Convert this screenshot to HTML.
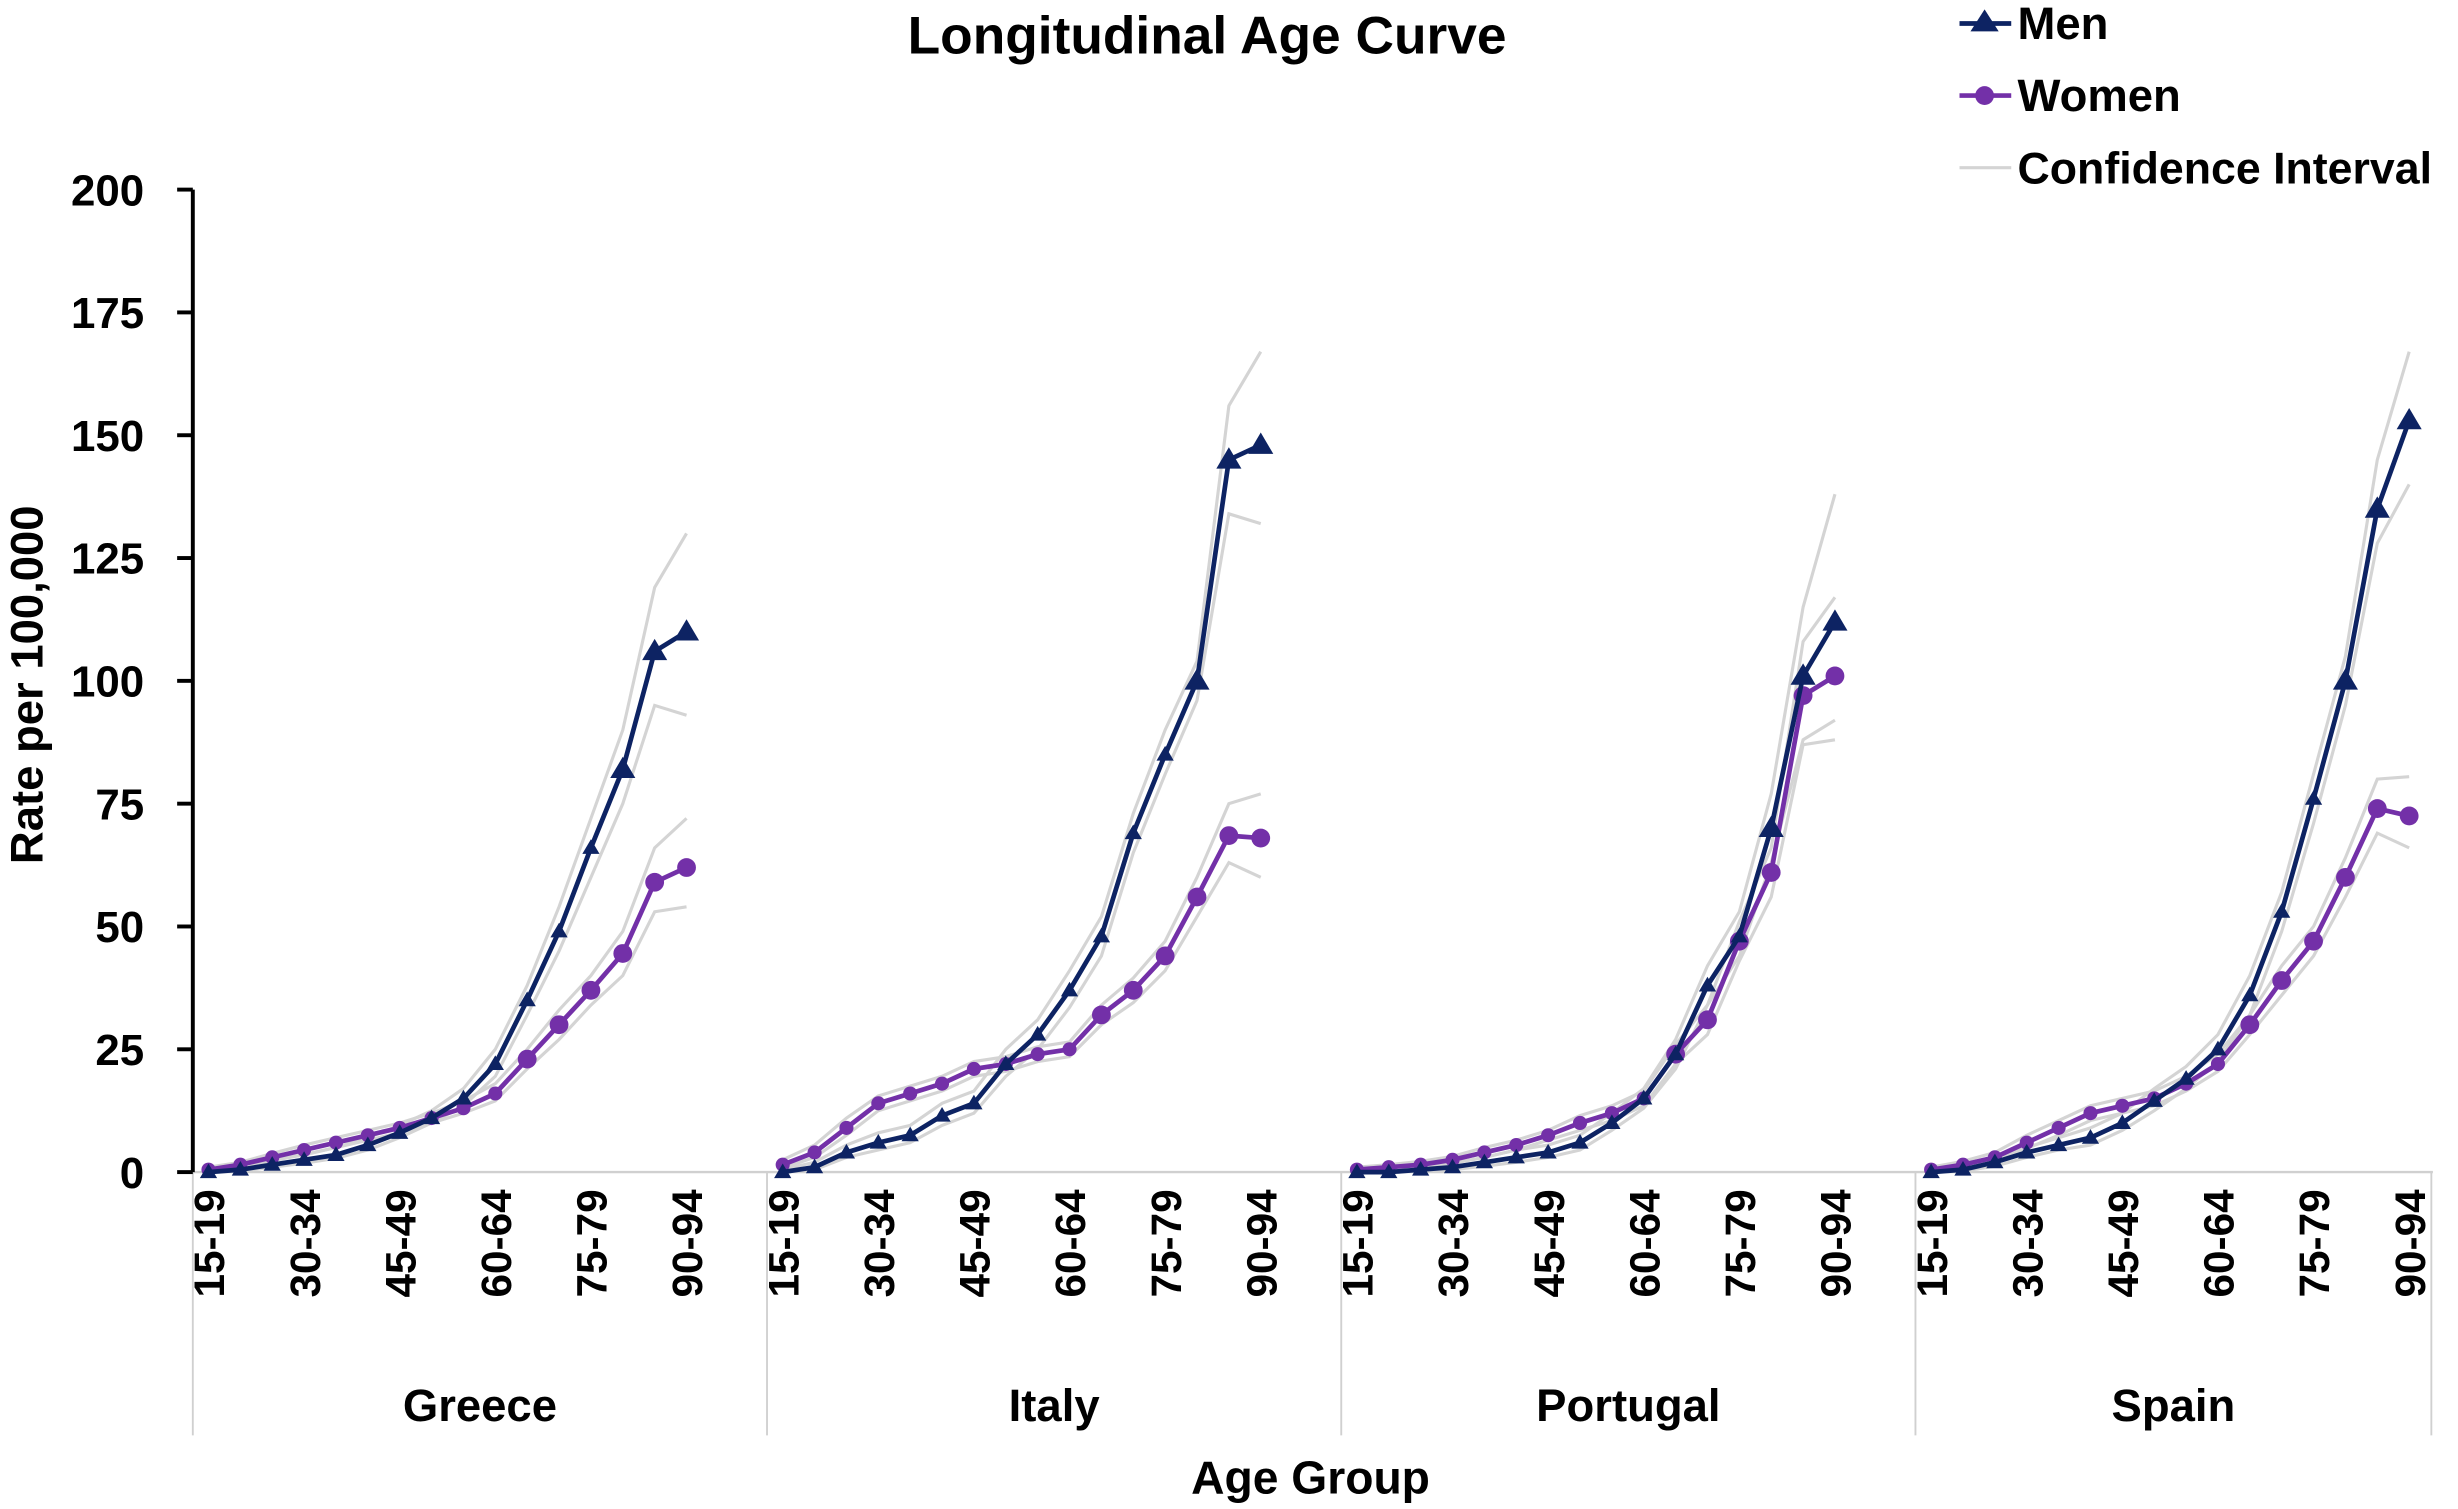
<!DOCTYPE html>
<html><head><meta charset="utf-8"><style>
html,body{margin:0;padding:0;background:#fff;}
svg{display:block;font-family:"Liberation Sans",sans-serif;font-weight:bold;}
</style></head><body>
<svg id="chart" width="2458" height="1509" viewBox="0 0 1568 963" preserveAspectRatio="none" xmlns="http://www.w3.org/2000/svg">
<text x="770" y="34" text-anchor="middle" font-size="34" fill="#000">Longitudinal Age Curve</text>
<g>
 <g><line x1="1250" y1="15" x2="1283" y2="15" stroke="#0d2363" stroke-width="3"/><polygon points="1266,6 1275,20 1257,20" fill="#0d2363"/><text x="1287" y="25" font-size="29">Men</text></g>
 <g><line x1="1250" y1="61" x2="1283" y2="61" stroke="#7330a8" stroke-width="3"/><circle cx="1266" cy="61" r="6" fill="#7330a8"/><text x="1287" y="71" font-size="29">Women</text></g>
 <g><line x1="1250" y1="107" x2="1283" y2="107" stroke="#d4d4d4" stroke-width="2"/><text x="1287" y="117" font-size="28.5">Confidence Interval</text></g>
</g>
<text transform="translate(27,437) rotate(-90)" text-anchor="middle" font-size="29">Rate per 100,000</text>
<text x="836" y="953" text-anchor="middle" font-size="29.5">Age Group</text>
<g id="axes"></g>
<g id="marks"></g>
</svg>
<script>
const countries = ["Greece","Italy","Portugal","Spain"];
const ageGroups = ["15-19","20-24","25-29","30-34","35-39","40-44","45-49","50-54","55-59","60-64","65-69","70-74","75-79","80-84","85-89","90-94"];
const yTicks = [0,25,50,75,100,125,150,175,200];
const menGreece = [0,0.5,1.5,2.5,3.5,5.5,8,11,15,22,35,49,66,82,106,110];
const menItaly = [0,1,4,6,7.5,11.5,14,22,28,37,48,69,85,100,145,148];
const menPortugal = [0,0,0.5,1,2,3,4,6,10,15,24,38,48,70,101,112];
const menSpain = [0,0.5,2,4,5.5,7,10,14.5,19,25,36,53,76,100,135,153];
const womenGreece = [0.5,1.5,3,4.5,6,7.5,9,11,13,16,23,30,37,44.5,59,62];
const womenItaly = [1.5,4,9,14,16,18,21,22,24,25,32,37,44,56,68.5,68];
const womenPortugal = [0.5,1,1.5,2.5,4,5.5,7.5,10,12,15,24,31,47,61,97,101];
const womenSpain = [0.5,1.5,3,6,9,12,13.5,15,18,22,30,39,47,60,74,72.5];
const menUpperGreece = [0.5,1,2.5,3.5,5,7,9.5,12.5,17,25,38,54,72,90,119,130];
const menLowerGreece = [0,0.2,1,1.8,2.8,4.5,7,10,13.5,19.5,32,45,60,75,95,93];
const womenUpperGreece = [1,2,3.8,5.5,7,8.5,10,12,14.5,18,25,33,40,49,66,72];
const womenLowerGreece = [0.2,1,2.3,3.6,5,6.5,8,10,12,14.5,21,27,34,40,53,54];
const menUpperItaly = [0.5,2,5.5,8,9.5,14,16.5,25,31,41,52,73,90,104,156,167];
const menLowerItaly = [0,0.5,3,4.5,6,9.5,12,19.5,25,33.5,44,65,81,96,134,132];
const womenUpperItaly = [2.5,5.5,11,15.5,17.5,19.5,22.5,23.5,25.5,26.5,34,39.5,47,60,75,77];
const womenLowerItaly = [0.8,3,7.5,12.5,14.5,16.5,19.5,20.5,22.5,23.5,30,34.5,41,52,63,60];
const menUpperPortugal = [0.2,0.3,1,1.8,3,4.5,5.5,7.5,12,17,27,42,53,77,115,138];
const menLowerPortugal = [0,0,0.2,0.5,1.2,2,3,4.5,8.5,13,21,34,44,63,88,92];
const womenUpperPortugal = [1,1.5,2.2,3.2,5,6.5,8.5,11.5,13.5,16.5,26,34,51,66,108,117];
const womenLowerPortugal = [0.2,0.6,1,1.8,3,4.5,6.5,8.5,10.5,13.5,22,28,43,56,87,88];
const menUpperSpain = [0.3,1,3,5,7,9,12,17,21.5,28,40,57,81,105,145,167];
const menLowerSpain = [0,0.2,1.2,3,4.5,5.5,8.5,12.5,17,22.5,32,49,71,95,128,140];
const womenUpperSpain = [1,2.2,4,7.5,10.5,13.5,15,16.5,19.5,24,32,42,50,64,80,80.5];
const womenLowerSpain = [0.2,1,2.2,4.8,7.5,10.5,12,13.5,16.5,20.5,28,36,44,56,69,66];

const men = [menGreece,menItaly,menPortugal,menSpain];
const women = [womenGreece,womenItaly,womenPortugal,womenSpain];
const ciSets = [
 [menUpperGreece,menLowerGreece,womenUpperGreece,womenLowerGreece],
 [menUpperItaly,menLowerItaly,womenUpperItaly,womenLowerItaly],
 [menUpperPortugal,menLowerPortugal,womenUpperPortugal,womenLowerPortugal],
 [menUpperSpain,menLowerSpain,womenUpperSpain,womenLowerSpain]];

const NS="http://www.w3.org/2000/svg";
const Y0=748, Y1=121, AX=123, GW=366.3, STEP=20.33, X0=133, XEND=1551;
function y(v){return Y0-(v/200)*(Y0-Y1);}
function x(g,i){return X0+g*GW+i*STEP;}
function mk(tag,attrs,parent){const e=document.createElementNS(NS,tag);for(const k in attrs)e.setAttribute(k,attrs[k]);parent.appendChild(e);return e;}
const axes=document.getElementById('axes'), marks=document.getElementById('marks');

const base=mk('line',{x1:AX,y1:Y0,x2:1552,y2:Y0,stroke:'#d0d0d0','stroke-width':1.5},axes);


[0,1,2,3,4].forEach(g=>{
 const sx = g<4 ? AX+g*GW : XEND;
 const s=mk('line',{x1:sx,y1:Y0,x2:sx,y2:916,stroke:'#d0d0d0','stroke-width':1.2},axes);
 
 
});
yTicks.forEach(t=>{
 const tk=mk('line',{x1:113,y1:y(t),x2:AX,y2:y(t),stroke:'#000','stroke-width':2.5},axes);
 
 
 const lb=mk('text',{x:92,y:y(t)+10,'text-anchor':'end','font-size':28},axes);
 lb.textContent=t;
 
 
});
const yl=mk('line',{x1:AX,y1:Y1,x2:AX,y2:Y0,stroke:'#000','stroke-width':2.5},axes);



countries.forEach((c,g)=>{
 const left=AX+g*GW, right=(g<3)?AX+(g+1)*GW:XEND;
 const cl=mk('text',{x:(left+right)/2,y:907,'text-anchor':'middle','font-size':29},axes);
 cl.textContent=c;
 
 
 ageGroups.forEach((a,i)=>{
  if(i%3!==0)return;
  const t=mk('text',{transform:`translate(${x(g,i)+10},759) rotate(-90)`,'text-anchor':'end','font-size':27},axes);
  t.textContent=a;
  
  
 });
});
function pts(g,arr){return arr.map((v,i)=>x(g,i)+','+y(v)).join(' ');}
countries.forEach((c,g)=>{
 ciSets[g].forEach(arr=>{
  const l=mk('polyline',{points:pts(g,arr),fill:'none',stroke:'#d4d4d4','stroke-width':2},marks);
  
  
 });
 const wl=mk('polyline',{points:pts(g,women[g]),fill:'none',stroke:'#7330a8','stroke-width':3},marks);
 
 
 women[g].forEach((v,i)=>{
  const r=i>=10?6:4.5;
  const p=mk('circle',{cx:x(g,i),cy:y(v),r:r,fill:'#7330a8'},marks);
  
  
 });
 const ml=mk('polyline',{points:pts(g,men[g]),fill:'none',stroke:'#0d2363','stroke-width':3},marks);
 
 
 men[g].forEach((v,i)=>{
  const s=i>=13?8:5.5, cx=x(g,i), cy=y(v);
  const p=mk('polygon',{points:`${cx},${cy-s} ${cx+s},${cy+s*0.7} ${cx-s},${cy+s*0.7}`,fill:'#0d2363'},marks);
  
  
 });
});
</script>
</body></html>
